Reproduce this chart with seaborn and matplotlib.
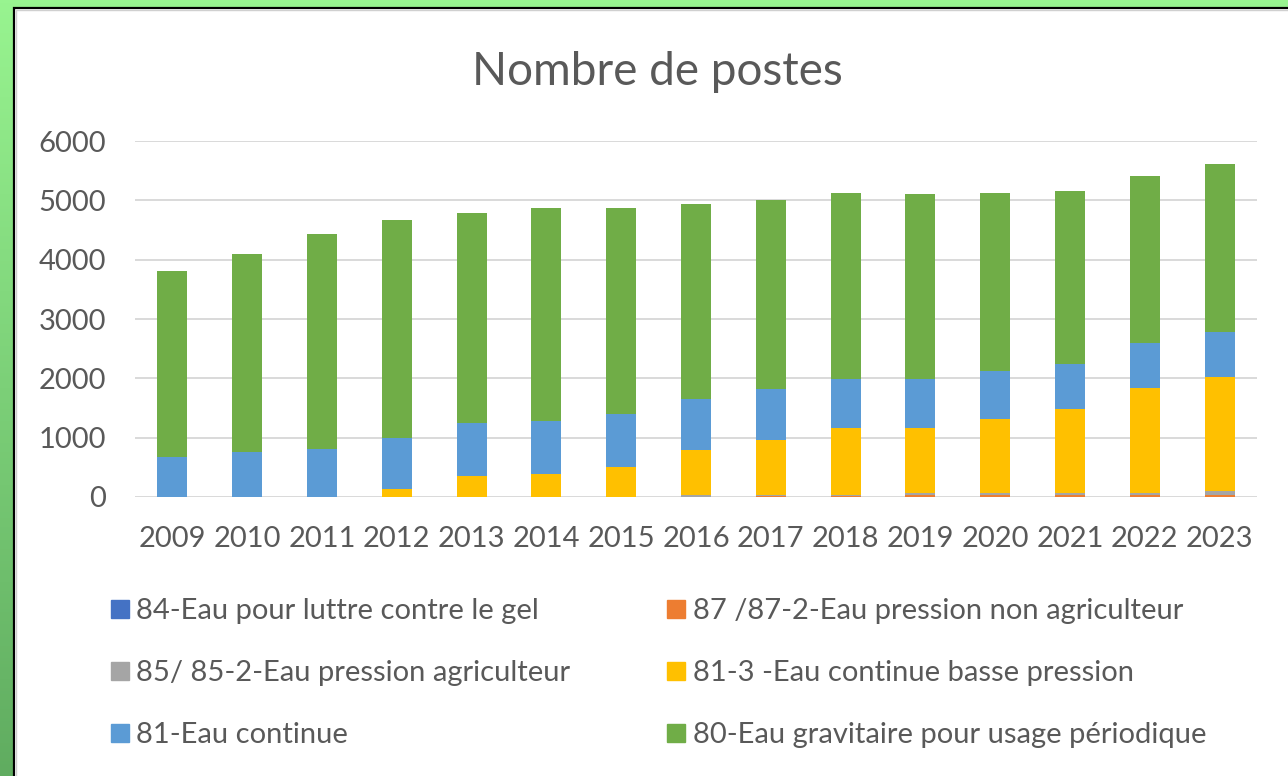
import numpy as np
import pandas as pd
import matplotlib
matplotlib.use("Agg")
import matplotlib.pyplot as plt
from matplotlib.patches import Rectangle
from matplotlib.lines import Line2D
import seaborn as sns

years = ["2009", "2010", "2011", "2012", "2013", "2014", "2015", "2016",
         "2017", "2018", "2019", "2020", "2021", "2022", "2023"]
s84_gel = [0, 0, 0, 0, 0, 0, 0, 0, 0, 0, 0, 0, 0, 0, 0]
s87_non_agri = [0, 0, 0, 0, 0, 0, 0, 5, 20, 25, 30, 30, 30, 30, 35]
s85_agri = [0, 0, 0, 0, 0, 0, 0, 25, 10, 10, 30, 35, 35, 35, 70]
s81_3_basse = [0, 0, 0, 134, 358, 386, 504, 765, 938, 1129, 1104, 1244, 1424, 1776, 1910]
s81_continue = [677, 761, 817, 856, 895, 895, 889, 861, 845, 823, 823, 817, 749, 750, 772]
s80_gravitaire = [3134, 3335, 3621, 3683, 3537, 3593, 3481, 3274, 3201, 3144, 3117, 3005, 2921, 2826, 2831]

labels = ["84-Eau pour luttre contre le gel",
          "87 /87-2-Eau pression non agriculteur",
          "85/ 85-2-Eau pression agriculteur",
          "81-3 -Eau continue basse pression",
          "81-Eau continue",
          "80-Eau gravitaire pour usage périodique"]
colors = ["#4472C4", "#ED7D31", "#A5A5A5", "#FFC000", "#5B9BD5", "#70AD47"]
series = [s84_gel, s87_non_agri, s85_agri, s81_3_basse, s81_continue, s80_gravitaire]

FONT = ["Lato", "DejaVu Sans"]
TXT = "#595959"

W, H = 1288, 776
fig = plt.figure(figsize=(W / 100, H / 100), dpi=100)

# green gradient frame
bg = fig.add_axes([0, 0, 1, 1], zorder=-10)
grad = np.linspace(0, 1, 256).reshape(-1, 1)
top = np.array([0x98, 0xF4, 0x90]) / 255
bot = np.array([0x60, 0xAC, 0x60]) / 255
img = top[None, None, :] * (1 - grad[:, :, None]) + bot[None, None, :] * grad[:, :, None]
bg.imshow(img, aspect="auto", extent=[0, 1, 0, 1])
bg.set_xlim(0, 1); bg.set_ylim(0, 1)
bg.axis("off")
# white chart area with black border (left/top visible)
bg.add_patch(Rectangle((14 / W, -0.02), 1.05, 1 - 8 / H + 0.02,
                       facecolor="white", edgecolor="black", linewidth=1.6,
                       transform=bg.transAxes, zorder=2))
bg.add_patch(Rectangle((16 / W, -0.02), 1.05, 1 - 10 / H + 0.02,
                       facecolor="none", edgecolor="#D0D0D0", linewidth=1.0,
                       transform=bg.transAxes, zorder=3))

ax = fig.add_axes([135 / W, 1 - 497 / H, (1257 - 135) / W, (497 - 141) / H])
ax.set_facecolor("none")

cum = np.cumsum(np.array(series, dtype=float), axis=0)
for i in range(len(series) - 1, -1, -1):
    df = pd.DataFrame({"year": years, "value": cum[i]})
    sns.barplot(data=df, x="year", y="value", color=colors[i], width=0.40,
                saturation=1, ax=ax, edgecolor="none", linewidth=0, zorder=3)

ax.set_xlim(-0.5, len(years) - 0.5)
ax.set_ylim(0, 6000)
ax.set_yticks([0, 1000, 2000, 3000, 4000, 5000, 6000])
ax.yaxis.grid(True, color="#D9D9D9", linewidth=1.4, zorder=0)
ax.set_axisbelow(True)
for sp in ax.spines.values():
    sp.set_visible(False)
ax.tick_params(axis="both", length=0, labelsize=21, colors=TXT)
ax.tick_params(axis="y", pad=21)
ax.tick_params(axis="x", pad=21)
for t in ax.get_xticklabels() + ax.get_yticklabels():
    t.set_fontfamily(FONT)
ax.set_xlabel("")
ax.set_ylabel("")

fig.text(657 / W, 1 - 72 / H, "Nombre de postes", ha="center", va="center",
         fontsize=33, color=TXT, family=FONT)

handles = [Line2D([], [], linestyle="none", marker="s", markersize=13,
                  markerfacecolor=c, markeredgecolor=c) for c in colors]
order = [0, 2, 4, 1, 3, 5]
leg = fig.legend([handles[i] for i in order], [labels[i] for i in order],
                 ncol=2, loc="upper left", bbox_to_anchor=(108 / W, 1 - 598 / H),
                 frameon=False, borderaxespad=0, borderpad=0,
                 handlelength=0.8, handletextpad=0.17,
                 columnspacing=3.22, labelspacing=1.23,
                 prop={"family": FONT, "size": 21})
for t in leg.get_texts():
    t.set_color(TXT)

fig.savefig("out.png", dpi=100)
